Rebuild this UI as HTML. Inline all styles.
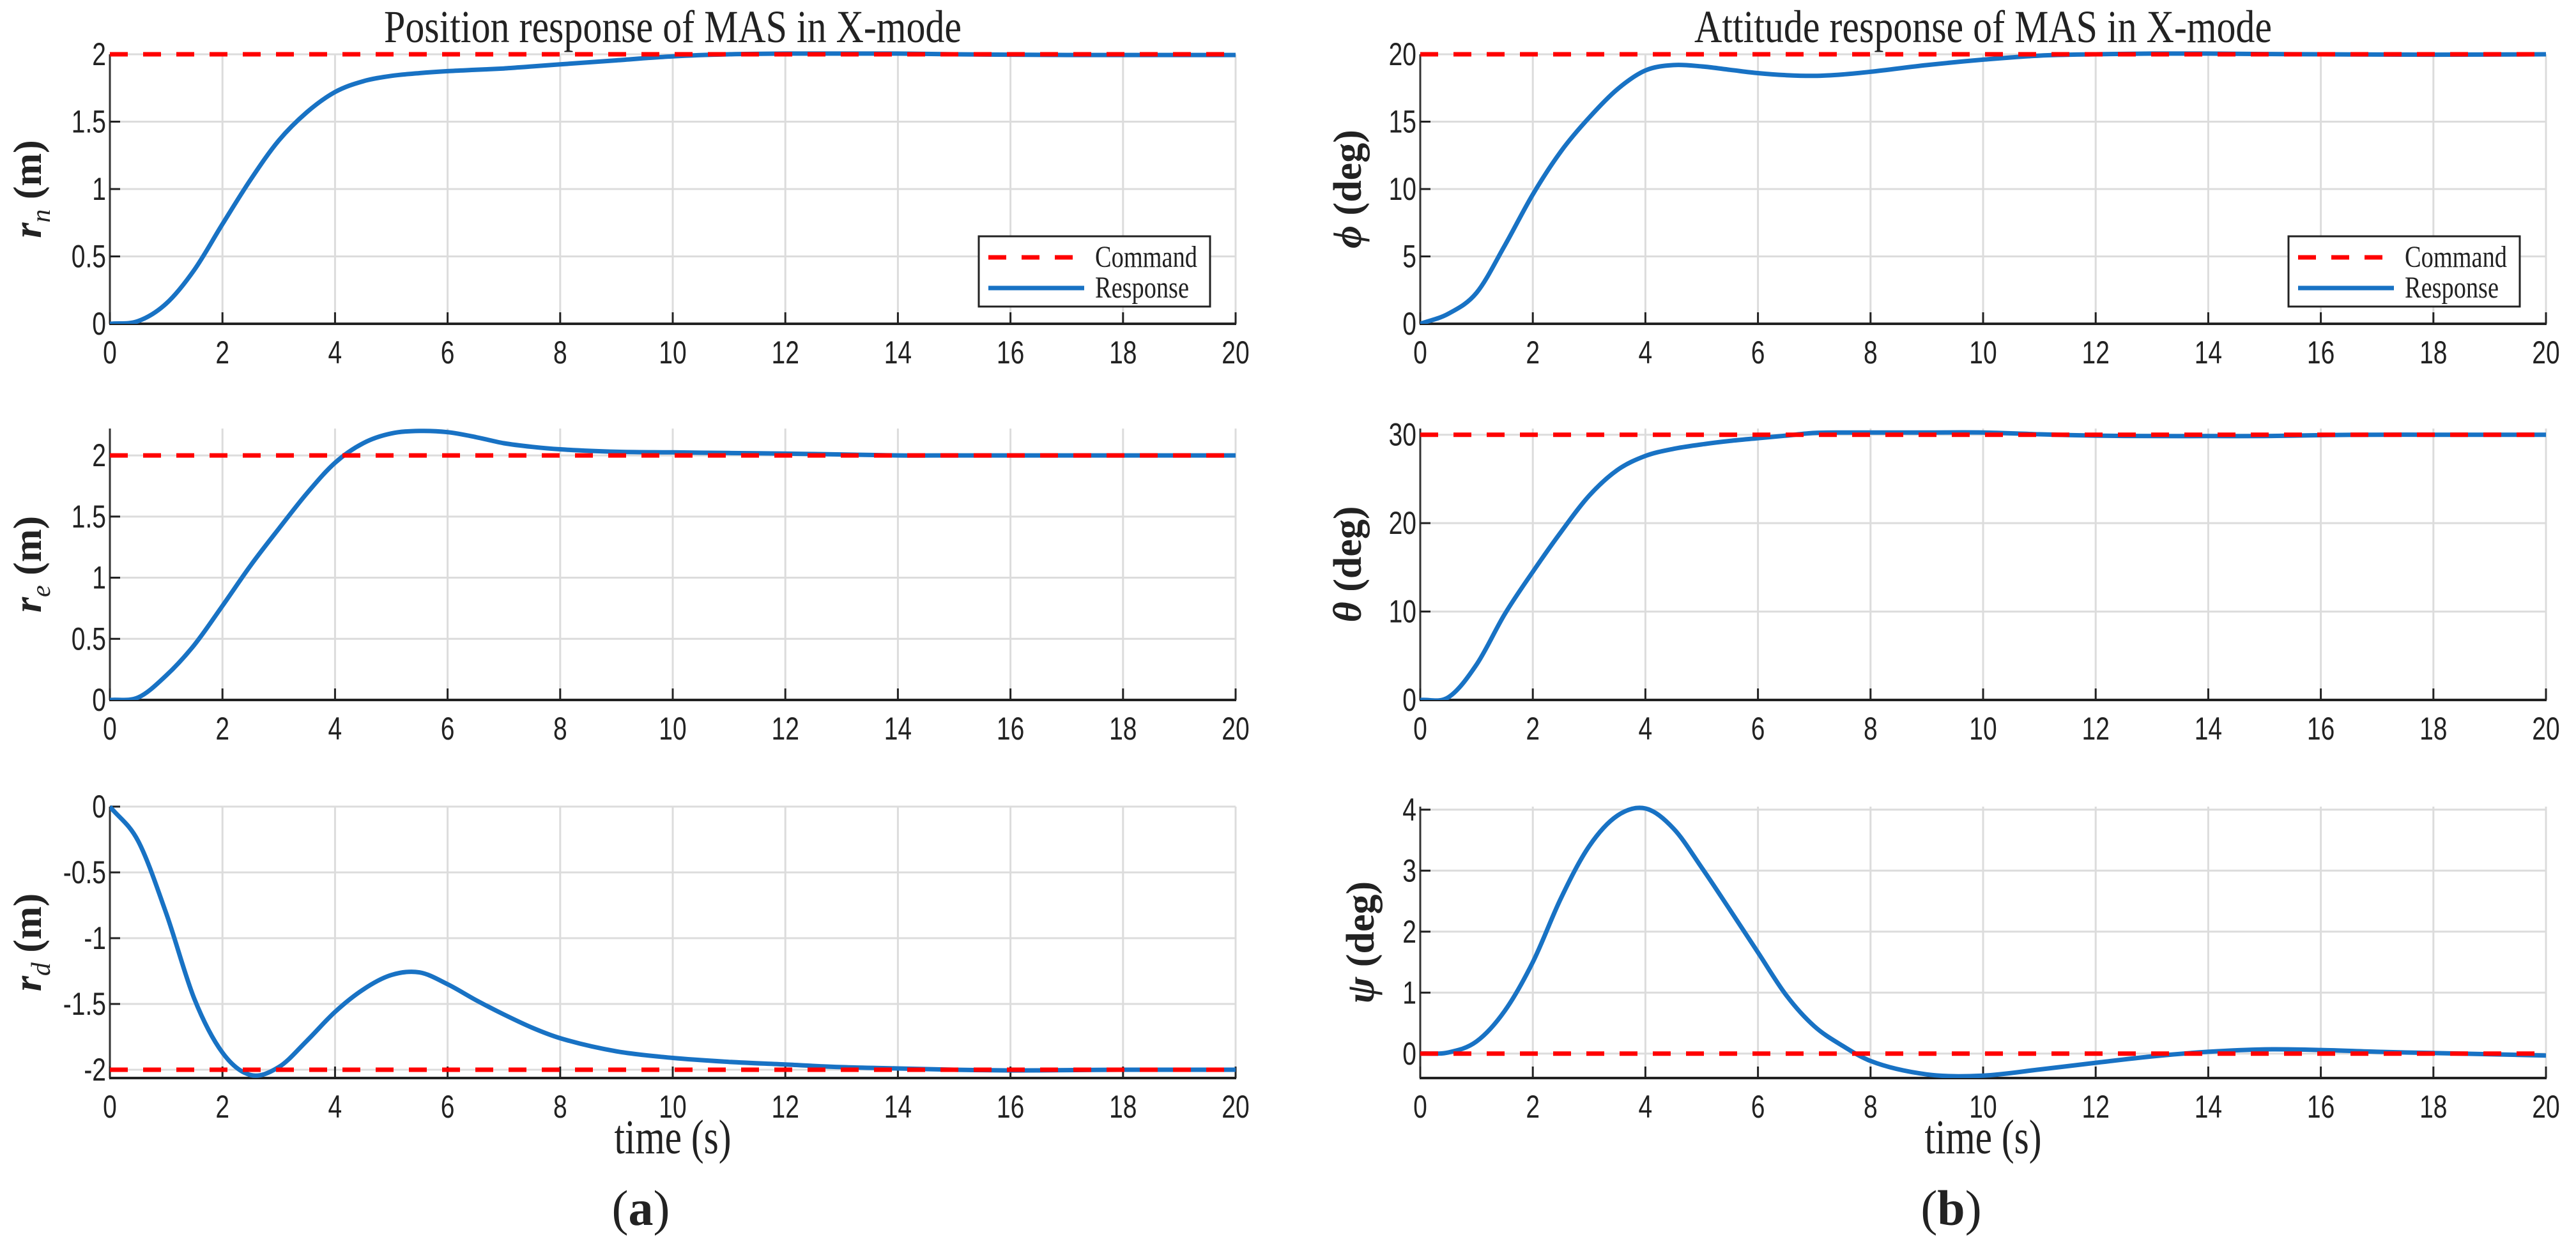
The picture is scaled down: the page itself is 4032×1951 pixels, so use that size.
<!DOCTYPE html>
<html><head><meta charset="utf-8"><style>
html,body{margin:0;padding:0;background:#fff;}
svg{display:block;}
</style></head><body>
<svg id="fig" width="4032" height="1951" viewBox="0 0 4032 1951" xmlns="http://www.w3.org/2000/svg"></svg>
<script>
const times = [0,0.5,1,1.5,2,2.5,3,3.5,4,4.5,5,5.5,6,6.5,7,7.5,8,9,10,11,12,13,14,15,16,17,18,19,20];
const rnValues = [0,0.02,0.15,0.4,0.74,1.07,1.36,1.57,1.72,1.8,1.84,1.86,1.875,1.885,1.895,1.91,1.925,1.955,1.985,2.0,2.005,2.005,2.005,2.0,1.997,1.995,1.995,1.995,1.995];
const reValues = [0,0.02,0.2,0.45,0.77,1.1,1.4,1.69,1.94,2.1,2.18,2.2,2.19,2.15,2.1,2.07,2.05,2.03,2.025,2.02,2.015,2.008,2.0,2.0,2.0,2.0,2.0,2.0,2.0];
const rdValues = [0,-0.26,-0.81,-1.46,-1.87,-2.04,-1.98,-1.78,-1.56,-1.39,-1.28,-1.26,-1.35,-1.47,-1.58,-1.68,-1.76,-1.86,-1.91,-1.94,-1.96,-1.98,-1.99,-2.0,-2.005,-2.003,-2.0,-2.0,-2.0];
const phiValues = [0,0.75,2.3,5.8,9.6,12.8,15.3,17.4,18.8,19.2,19.1,18.85,18.6,18.45,18.4,18.5,18.7,19.2,19.6,19.9,20.0,20.05,20.05,20.02,20.0,19.98,19.97,19.98,20.0];
const thetaValues = [0,0.3,4,9.7,14.5,19,23.1,26.0,27.6,28.4,28.9,29.3,29.6,29.9,30.2,30.25,30.25,30.25,30.25,30.05,29.9,29.85,29.85,29.85,29.95,30,30,30,30];
const psiValues = [0,0.02,0.2,0.7,1.5,2.55,3.4,3.9,4.02,3.69,3.05,2.36,1.66,0.96,0.45,0.13,-0.12,-0.34,-0.36,-0.26,-0.15,-0.045,0.03,0.07,0.06,0.03,0.01,-0.01,-0.03];
const commands = [2, 2, -2, 20, 30, 0];
const xTicks = [0,2,4,6,8,10,12,14,16,18,20];
const yTickSets = [[0,0.5,1,1.5,2],[0,0.5,1,1.5,2],[-2,-1.5,-1,-0.5,0],[0,5,10,15,20],[0,10,20,30],[0,1,2,3,4]];
const yTickLabels = [["0","0.5","1","1.5","2"],["0","0.5","1","1.5","2"],["-2","-1.5","-1","-0.5","0"],["0","5","10","15","20"],["0","10","20","30"],["0","1","2","3","4"]];
const yLims = [[0,2],[0,2.22],[-2.063,0],[0,20],[0,30.7],[-0.4,4.05]];

const NS = "http://www.w3.org/2000/svg";
const svg = document.getElementById('fig');
function mk(tag, attrs, parent){ const e=document.createElementNS(NS,tag); for(const k in attrs) e.setAttribute(k,attrs[k]); (parent||svg).appendChild(e); return e; }

const cols = [[172,1934],[2223,3985]];
const rows = [[85,507],[671,1096],[1263,1688]];
const series = [rnValues,reValues,rdValues,phiValues,thetaValues,psiValues];
const names = ['rn','re','rd','phi','theta','psi'];
const ylabels = [['r','n',' (m)'],['r','e',' (m)'],['r','d',' (m)'],['\u03d5','',' (deg)'],['\u03b8','',' (deg)'],['\u03c8','',' (deg)']];

function pathFor(xs, ys, X, Y){
  const n=xs.length, m=[];
  for(let i=0;i<n;i++){
    if(i===0) m.push((ys[1]-ys[0])/(xs[1]-xs[0]));
    else if(i===n-1) m.push((ys[n-1]-ys[n-2])/(xs[n-1]-xs[n-2]));
    else m.push(((ys[i]-ys[i-1])/(xs[i]-xs[i-1]) + (ys[i+1]-ys[i])/(xs[i+1]-xs[i]))/2);
  }
  let d='M'+X(xs[0])+','+Y(ys[0]);
  for(let i=0;i<n-1;i++){
    const h=xs[i+1]-xs[i];
    const x1=xs[i]+h/3, y1=ys[i]+m[i]*h/3, x2=xs[i+1]-h/3, y2=ys[i+1]-m[i+1]*h/3;
    d+=' C'+X(x1).toFixed(1)+','+Y(y1).toFixed(1)+' '+X(x2).toFixed(1)+','+Y(y2).toFixed(1)+' '+X(xs[i+1]).toFixed(1)+','+Y(ys[i+1]).toFixed(1);
  }
  return d;
}

for(let p=0;p<6;p++){
  const c=cols[Math.floor(p/3)], r=rows[p%3];
  const [x0,x1]=c, [yt,yb]=r, [ymin,ymax]=yLims[p];
  const X=v=>x0+(v-0)/20*(x1-x0);
  const Y=v=>yb-(v-ymin)/(ymax-ymin)*(yb-yt);
  const g=mk('g',{});
  
  
  const clipId='clip'+p;
  const cp=mk('clipPath',{id:clipId},g); mk('rect',{x:x0,y:yt-6,width:x1-x0,height:yb-yt+6},cp);
  xTicks.forEach(t=>{ const l=mk('line',{x1:X(t),x2:X(t),y1:yt,y2:yb,stroke:'#dcdcdc','stroke-width':3},g);
      });
  yTickSets[p].forEach(t=>{ const l=mk('line',{x1:x0,x2:x1,y1:Y(t),y2:Y(t),stroke:'#dcdcdc','stroke-width':3},g);
      });
  const la=mk('line',{x1:x0,x2:x0,y1:yt,y2:yb,stroke:'#333','stroke-width':3},g);
   
  const ba=mk('line',{x1:x0-1,x2:x1+1,y1:yb,y2:yb,stroke:'#222','stroke-width':4},g);
   
  xTicks.forEach(t=>{
    const tk=mk('line',{x1:X(t),x2:X(t),y1:yb,y2:yb-18,stroke:'#222','stroke-width':3},g);
     
    const tl=mk('text',{x:0,y:0,transform:'translate('+X(t)+','+(yb+62)+') scale(0.78,1)','font-family':'Liberation Sans, sans-serif','font-size':50,'text-anchor':'middle',fill:'#222'},g);
    tl.textContent=String(t);
     
  });
  yTickSets[p].forEach((t,i)=>{
    const tk=mk('line',{x1:x0,x2:x0+16,y1:Y(t),y2:Y(t),stroke:'#222','stroke-width':3},g);
     
    const tl=mk('text',{x:0,y:0,transform:'translate('+(x0-6)+','+(Y(t)+17)+') scale(0.78,1)','font-family':'Liberation Sans, sans-serif','font-size':50,'text-anchor':'end',fill:'#222'},g);
    tl.textContent=yTickLabels[p][i];
     
  });
  const lx = p<3 ? 64 : (p===5 ? 2150 : 2130);
  const ly = (yt+yb)/2;
  const yl=mk('text',{x:0,y:0,transform:'translate('+lx+','+ly+') rotate(-90)','font-family':'Liberation Serif, serif','font-size':62,'text-anchor':'middle',fill:'#222'},g);
   
  const a=mk('tspan',{'font-style':'italic','font-weight':'bold'},yl); a.textContent=ylabels[p][0];
  if(ylabels[p][1]){ const s=mk('tspan',{'font-style':'italic','font-size':42,dy:14},yl); s.textContent=ylabels[p][1];
    const b=mk('tspan',{'font-weight':'bold',dy:-14},yl); b.textContent=ylabels[p][2]; }
  else { const b=mk('tspan',{'font-weight':'bold'},yl); b.textContent=ylabels[p][2]; }
  const resp=mk('path',{d:pathFor(times,series[p],X,Y),fill:'none',stroke:'#1872c4','stroke-width':7,'clip-path':'url(#'+clipId+')'},g);
   
  const cmd=mk('line',{x1:X(0),x2:X(20),y1:Y(commands[p]),y2:Y(commands[p]),stroke:'#ff0000','stroke-width':7,'stroke-dasharray':'28,24'},g);
   
  if(p%3===0){
    const lx0 = p===0 ? 1532 : 3582;
    const lg=mk('g',{},g);
     
    mk('rect',{x:lx0,y:370,width:362,height:110,fill:'#fff',stroke:'#222','stroke-width':3},lg);
    mk('line',{x1:lx0+15,x2:lx0+165,y1:403,y2:403,stroke:'#ff0000','stroke-width':7,'stroke-dasharray':'28,24'},lg);
    mk('line',{x1:lx0+15,x2:lx0+165,y1:451,y2:451,stroke:'#1872c4','stroke-width':7},lg);
    const t1=mk('text',{x:lx0+182,y:418,'font-family':'Liberation Serif, serif','font-size':48,textLength:160,lengthAdjust:'spacingAndGlyphs',fill:'#222'},lg);
    t1.textContent='Command';  
    const t2=mk('text',{x:lx0+182,y:466,'font-family':'Liberation Serif, serif','font-size':48,textLength:147,lengthAdjust:'spacingAndGlyphs',fill:'#222'},lg);
    t2.textContent='Response';  
  }
}
[[1053,'Position response of MAS in X-mode','(a)'],[3104,'Attitude response of MAS in X-mode','(b)']].forEach((d,i)=>{
  const t=mk('text',{x:d[0],y:66,'font-family':'Liberation Serif, serif','font-size':72,'text-anchor':'middle',textLength:904,lengthAdjust:'spacingAndGlyphs',fill:'#222'});
  t.textContent=d[1];  
  const x=mk('text',{x:d[0],y:1806,'font-family':'Liberation Serif, serif','font-size':76,'text-anchor':'middle',textLength:183,lengthAdjust:'spacingAndGlyphs',fill:'#222'});
  x.textContent='time (s)';  
  const s=mk('text',{x:d[0]-50,y:1918,'font-family':'Liberation Serif, serif','font-size':78,'text-anchor':'middle',fill:'#222'});
   
  const p1=mk('tspan',{},s); p1.textContent='(';
  const p2=mk('tspan',{'font-weight':'bold'},s); p2.textContent=d[2].slice(1,2);
  const p3=mk('tspan',{},s); p3.textContent=')';
});
</script>
</body></html>
